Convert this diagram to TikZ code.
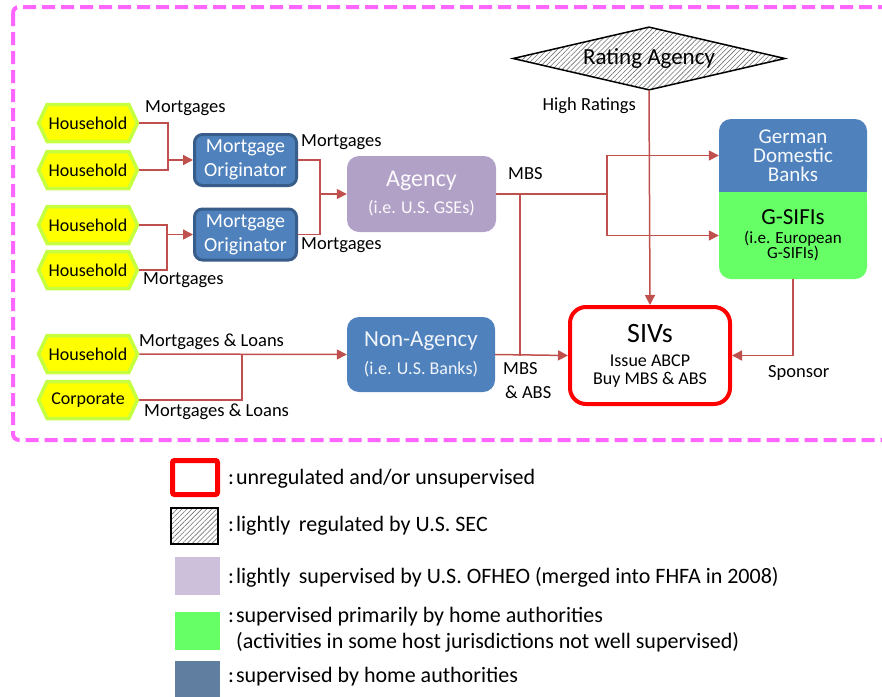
\documentclass[tikz,border=0pt]{standalone}
\usepackage{fontspec}
\setmainfont{Carlito}
\usetikzlibrary{arrows.meta,shapes.geometric,shapes.symbols,patterns.meta}
\definecolor{arrowred}{HTML}{C0504D}
\definecolor{hhfill}{HTML}{FFFF00}
\definecolor{hhborder}{HTML}{C6FF40}
\definecolor{blueA}{HTML}{4F81BD}
\definecolor{blueB}{HTML}{385D8A}
\definecolor{lav}{HTML}{B2A1C7}
\definecolor{lavL}{HTML}{CCC0DA}
\definecolor{grn}{HTML}{66FF66}
\definecolor{slate}{HTML}{607FA0}
\definecolor{mag}{HTML}{FF66FF}
\newcommand\fsz[2]{\fontsize{#1}{#2}\selectfont}
\begin{document}
\begin{tikzpicture}[x=1pt,y=-1pt,
  hh/.style={signal, signal to=east and west, signal pointer angle=130,
    fill=hhfill, draw=hhborder, line width=3.5pt, minimum width=99pt,
    minimum height=37pt, inner sep=0pt, font=\fsz{18}{20}},
  orig/.style={rectangle, rounded corners=8pt, fill=blueA, draw=blueB,
    line width=3pt, minimum width=102pt, minimum height=51pt, inner sep=0pt,
    text=white, align=center, font=\fsz{20}{24}},
  softbox/.style={rectangle, rounded corners=12pt, inner sep=0pt, align=center},
  lbl/.style={font=\fsz{18.5}{20}, inner sep=0pt},
  conn/.style={draw=arrowred, line width=1.5pt},
  arr/.style={conn, -{Triangle[length=10pt,width=10pt]}},
  legtxt/.style={anchor=west, font=\fsz{22}{24}, inner sep=0pt},
  hatch/.style={pattern={Lines[angle=45,distance=3.5pt,line width=0.6pt]}, pattern color=black!55}
]
\clip (0,0) rectangle (882,696);
\fill[white] (0,0) rectangle (882,696);
% dashed frame
\draw[mag, line width=4pt, dash pattern=on 13pt off 6pt, rounded corners=6pt] (13,7) rectangle (900,440);

% households
\node[hh] (h1) at (88,123) {Household};
\node[hh] (h2) at (88,170) {Household};
\node[hh] (h3) at (88,225) {Household};
\node[hh] (h4) at (88,270) {Household};
\node[hh] (h5) at (88,354) {Household};
\node[hh] (corp) at (88,400) {Corporate};

% originators
\node[orig] (o1) at (245.5,160) {Mortgage\\Originator};
\node[orig] (o2) at (245.5,234.5) {Mortgage\\Originator};

% agency
\node[softbox, fill=lav, minimum width=149pt, minimum height=76pt, text=white!95!lav, font=\fsz{18}{27}] (agency) at (421.5,194)
  {{\fsz{24}{27}Agency}\\(i.e. U.S. GSEs)};
% non-agency
\node[softbox, fill=blueA, minimum width=148pt, minimum height=75pt, text=white!92!blueA, font=\fsz{18}{28}] (nonag) at (421,354.5)
  {{\fsz{23}{28}Non-Agency}\\(i.e. U.S. Banks)};

% German / G-SIFIs
\fill[blueA, rounded corners=12pt] (719,119) rectangle (867,192);
\fill[blueA] (719,175) rectangle (867,192);
\fill[grn, rounded corners=12pt] (719,192) rectangle (867,279);
\fill[grn] (719,192) rectangle (867,210);
\node[inner sep=0pt, minimum width=148pt, minimum height=73pt, align=center, text=white!95!blueA, font=\fsz{21}{19}] (german) at (793,155.5)
  {German\\Domestic\\Banks};
\node[inner sep=0pt, minimum width=148pt, minimum height=87pt, align=center, font=\fsz{17}{15.5}] (gsifi) at (793,235.5)
  {{\fsz{23}{15.5}G-SIFIs}\\[3pt](i.e. European\\G-SIFIs)};

% rating agency
\node[diamond, draw=black, line width=1.5pt, hatch, minimum width=272pt, minimum height=63pt, inner sep=0pt, aspect=4.3, font=\fsz{23}{24}] (rating) at (649,58.5) {Rating Agency};

% SIVs
\node[rectangle, rounded corners=16pt, draw=red, line width=4pt, fill=white, minimum width=160pt, minimum height=97pt, inner sep=0pt, align=center, font=\fsz{18}{18}] (siv) at (650,355.5)
  {{\fsz{28}{28}SIVs}\\[6pt]Issue ABCP\\Buy MBS \& ABS};

% connectors
\coordinate (j1) at (168,160);
\draw[conn] (h1.east) -| (j1);
\draw[conn] (h2.east) -| (j1);
\draw[arr] (j1) -- (o1.west);
\coordinate (j2) at (167,234.5);
\draw[conn] (h3.east) -| (j2);
\draw[conn] (h4.east) -| (j2);
\draw[arr] (j2) -- (o2.west);
\coordinate (j3) at (320,194);
\draw[conn] (o1.east) -| (j3);
\draw[conn] (o2.east) -| (j3);
\draw[arr] (j3) -- (agency.west);
\coordinate (j4) at (607,194);
\coordinate (j5) at (520,194);
\draw[conn] (agency.east) -- (j4);
\draw[arr] (j4) |- (german.west);
\draw[arr] (j4) |- (gsifi.west);
\draw[conn] (j5) -- (j5 |- siv.west);
\draw[arr] (nonag.east) -- (siv.west);
\draw[arr] (rating.south) -- (siv.north);
\draw[arr] (gsifi.south) |- (siv.east);
\coordinate (j6) at (242,354);
\draw[arr] (h5.east) -- (nonag.west);
\draw[conn] (corp.east) -| (j6);

% labels
\node[lbl, anchor=west] (lm1) at (145,108) {Mortgages};
\node[lbl, anchor=west] (lm2) at (301,142) {Mortgages};
\node[lbl, anchor=west] (lm3) at (301,245) {Mortgages};
\node[lbl, anchor=west] (lm4) at (143,280) {Mortgages};
\node[lbl, anchor=west] (lml1) at (139,342) {Mortgages \& Loans};
\node[lbl, anchor=west] (lml2) at (144,412) {Mortgages \& Loans};
\node[lbl, anchor=west] (lmbs) at (508,174) {MBS};
\node[lbl, anchor=east] (lhr) at (636,106) {High Ratings};
\node[lbl, anchor=west] (lmbs2) at (503,369) {MBS};
\node[lbl, anchor=west] (labs) at (505,392) {\& ABS};
\node[lbl, anchor=west] (lsp) at (768,373) {Sponsor};

% legend
\draw[red, line width=5pt, rounded corners=2pt] (172.5,460.5) rectangle (217.5,494.5);
\node[legtxt] (t1) at (228,479) {:\kern2pt unregulated and/or unsupervised};
\draw[black, line width=1.2pt, hatch] (171,508) rectangle (218,544);
\node[legtxt] (t2) at (228,526) {:\kern2pt lightly\, regulated by U.S. SEC};
\fill[lavL] (175,557) rectangle (220,595);
\node[legtxt] (t3) at (228,577) {:\kern2pt lightly\, supervised by U.S. OFHEO (merged into FHFA in 2008)};
\fill[grn] (175,612) rectangle (220,650);
\node[legtxt] (t4) at (228,617) {:\kern2pt supervised primarily by home authorities};
\node[legtxt] (t4b) at (236,642) {(activities in some host jurisdictions not well supervised)};
\fill[slate] (175,661) rectangle (220,698);
\node[legtxt] (t5) at (228,677) {:\kern2pt supervised by home authorities};
\end{tikzpicture}
\end{document}
